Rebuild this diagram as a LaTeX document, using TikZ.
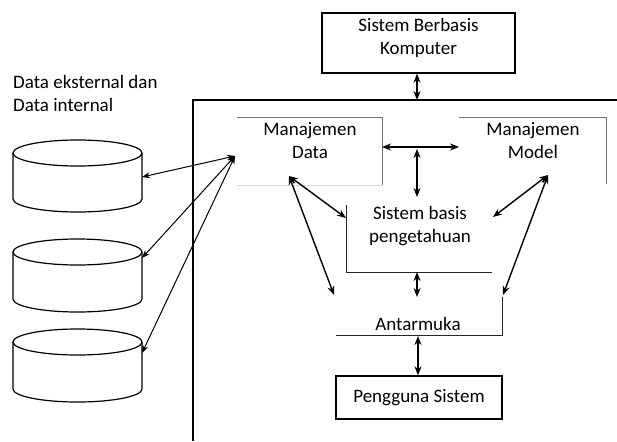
\documentclass[tikz,border=0pt]{standalone}
\usepackage{fontspec}
\setmainfont{Carlito}
\usetikzlibrary{arrows.meta}
\begin{document}
\begin{tikzpicture}[x=1pt,y=-1pt,
  txt/.style={font=\fontsize{19}{23}\selectfont, align=center, inner sep=0pt},
  box/.style={draw, line width=1.3pt, inner sep=0pt},
  conn/.style={line width=1.4pt, {Stealth[length=9pt,width=7pt]}-{Stealth[length=9pt,width=7pt]}},
  dconn/.style={line width=1pt, {Stealth[length=8pt,width=6pt]}-{Stealth[length=8pt,width=6pt]}},
  frame/.style={line width=1.4pt},
  opengray/.style={line width=0.8pt, black!55},
  openfaint/.style={line width=0.8pt, black!15},
  openblack/.style={line width=0.8pt, black!85},
  cyl/.style={line width=1.2pt}
]
\useasboundingbox (0,0) rectangle (617,441);

% top box
\node[box, minimum width=193pt, minimum height=60pt] (sbk) at (418.5,43) {};
\node[txt] (sbkt) at (418.5,38) {Sistem Berbasis\\Komputer};

% frame
\coordinate (fbl) at (193,441);
\coordinate (ftl) at (193,100);
\coordinate (ftr) at (617,100);
\draw[frame] (fbl) -- (ftl) -- (ftr);
\coordinate (fa) at (417,100);
\draw[conn] (sbk.south -| fa) -- (fa);

% Manajemen Data (open box)
\node[txt] (md) at (310,140.5) {Manajemen\\Data};
\draw[opengray] (237,117) -- (382,117) -- (382,185);
\draw[openfaint] (237,185) -- (382,185);
% Manajemen Model (open box)
\node[txt] (mm) at (533,140.5) {Manajemen\\Model};
\draw[opengray] (459,117) -- (606,117) -- (606,184);

% Sistem basis pengetahuan
\node[txt] (sb) at (420,226) {Sistem basis\\pengetahuan};
\draw[openblack] (346,205) -- (346,272) -- (492,272);

% Antarmuka
\node[txt] (am) at (418,324) {Antarmuka};
\draw[openblack] (336,335) -- (502,335) -- (502,297);

% Pengguna Sistem
\node[box, txt, minimum width=166pt, minimum height=43pt] (ps) at (419,397.5) {Pengguna Sistem};

% connectors between modules
\coordinate (mdR) at (382,147);
\coordinate (mmL) at (459,147);
\draw[conn] (mdR) -- (mmL);
\coordinate (vt) at (417,149);
\coordinate (vb) at (417,197);
\draw[conn] (vt) -- (vb);
\coordinate (sbB) at (417,272);
\coordinate (amT) at (417,297);
\draw[conn] (sbB) -- (amT);
\coordinate (amB) at (418,336);
\draw[conn] (amB) -- (ps.north -| amB);

\coordinate (mdA) at (289,176);
\coordinate (sbL) at (346,218);
\coordinate (amL) at (334,295);
\coordinate (mmA) at (548,175);
\coordinate (sbR) at (493,217);
\coordinate (amR) at (503,295);
\draw[conn] (mdA) -- (sbL);
\draw[conn] (mdA) -- (amL);
\draw[conn] (mmA) -- (sbR);
\draw[conn] (mmA) -- (amR);

% data label
\node[txt, align=left, anchor=west] (dl) at (13,93.5) {Data eksternal dan\\Data internal};

% cylinders
\foreach \yt/\yb/\nm in {153/199/c1, 252/299/c2, 342/389/c3}{
  \draw[cyl] (13,\yt) .. controls (13,\yt-7.2) and (41.9,\yt-13) .. (77.5,\yt-13)
     .. controls (113.1,\yt-13) and (142,\yt-7.2) .. (142,\yt)
     .. controls (142,\yt+7.2) and (113.1,\yt+13) .. (77.5,\yt+13)
     .. controls (41.9,\yt+13) and (13,\yt+7.2) .. (13,\yt) -- cycle;
  \draw[cyl] (13,\yt) -- (13,\yb) .. controls (13,\yb+7.2) and (41.9,\yb+13) .. (77.5,\yb+13)
     .. controls (113.1,\yb+13) and (142,\yb+7.2) .. (142,\yb) -- (142,\yt);
}
\coordinate (c1) at (142,177);
\coordinate (c2) at (142,258);
\coordinate (c3) at (142,353);
\coordinate (mdL) at (235,156);
\draw[dconn] (c1) -- (mdL);
\draw[dconn] (c2) -- (mdL);
\draw[dconn] (c3) -- (mdL);
\end{tikzpicture}
\end{document}
